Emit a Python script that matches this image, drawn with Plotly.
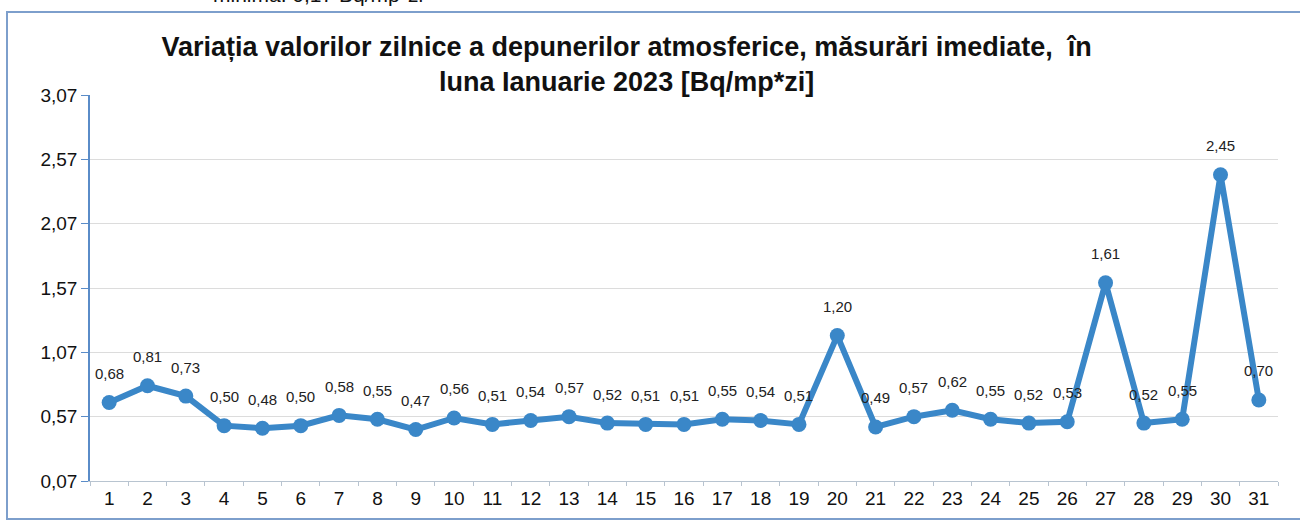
import plotly.graph_objects as go

days = [str(d) for d in range(1, 32)]
values = [0.68, 0.81, 0.73, 0.50, 0.48, 0.50, 0.58, 0.55, 0.47, 0.56,
          0.51, 0.54, 0.57, 0.52, 0.51, 0.51, 0.55, 0.54, 0.51, 1.20,
          0.49, 0.57, 0.62, 0.55, 0.52, 0.53, 1.61, 0.52, 0.55, 2.45, 0.70]
y_ticks = [0.07, 0.57, 1.07, 1.57, 2.07, 2.57, 3.07]
title_text = ("<b>Variația valorilor zilnice a depunerilor atmosferice, măsurări imediate,  în<br>"
              "luna Ianuarie 2023 [Bq/mp*zi]</b>")

W, H = 1300, 522
ML, MR, MT, MB = 90, 22, 95, 41
pw, ph = W - ML - MR, H - MT - MB
FONT = "Arial, Liberation Sans, sans-serif"

fig = go.Figure()
fig.add_trace(go.Scatter(
    x=days, y=values,
    mode="lines+markers",
    line=dict(color="#3a87c8", width=6),
    marker=dict(color="#3a87c8", size=15),
    cliponaxis=False,
    showlegend=False,
))

def px_x(p):
    return (p - ML) / pw

def px_y(p):
    return (H - MB - p) / ph

label_annotations = [
    dict(x=i, y=v, xref="x", yref="y", text=f"{v:.2f}".replace(".", ","),
         showarrow=False, yshift=29, xanchor="center", yanchor="middle",
         font=dict(size=15, color="#222222", family=FONT))
    for i, v in enumerate(values)
]

fig.update_layout(
    width=W, height=H,
    margin=dict(l=ML, r=MR, t=MT, b=MB),
    paper_bgcolor="white", plot_bgcolor="white",
    separators=",.",
    font=dict(family=FONT, color="#111111"),
    title=dict(text=title_text, x=0.482, xref="container", xanchor="center",
               y=1 - 55.5 / H, yref="container", yanchor="middle",
               font=dict(size=27, color="#111111", family=FONT)),
    xaxis=dict(type="category", range=[-0.5, 30.5], showgrid=False, showline=True,
               linecolor="#b8c4d0", linewidth=1, ticks="outside", ticklen=4,
               tickcolor="#b8c4d0", tickson="boundaries",
               tickfont=dict(size=19, color="#111111")),
    yaxis=dict(range=[0.07, 3.07], tickvals=y_ticks, tickformat=".2f",
               showgrid=True, gridcolor="#dcdcdc", gridwidth=1,
               showline=True, linecolor="#5a8cc8", linewidth=1.5,
               ticks="outside", ticklen=7, tickcolor="#5a8cc8",
               zeroline=False, tickfont=dict(size=19, color="#111111")),
    shapes=[
        dict(type="rect", xref="paper", yref="paper",
             x0=px_x(7), x1=px_x(1305), y0=px_y(519), y1=px_y(12),
             line=dict(color="#7d9fcc", width=2), fillcolor="rgba(0,0,0,0)", layer="below"),
    ],
    annotations=label_annotations + [
        dict(text="minima: 0,17 Bq/mp*zi", xref="paper", yref="paper",
             x=px_x(318), y=px_y(-5), showarrow=False, xanchor="center", yanchor="middle",
             font=dict(size=21, color="#111111", family=FONT)),
    ],
)

fig.write_html("out.html", post_script="document.body.style.margin='0';",
               config={"displayModeBar": False})
